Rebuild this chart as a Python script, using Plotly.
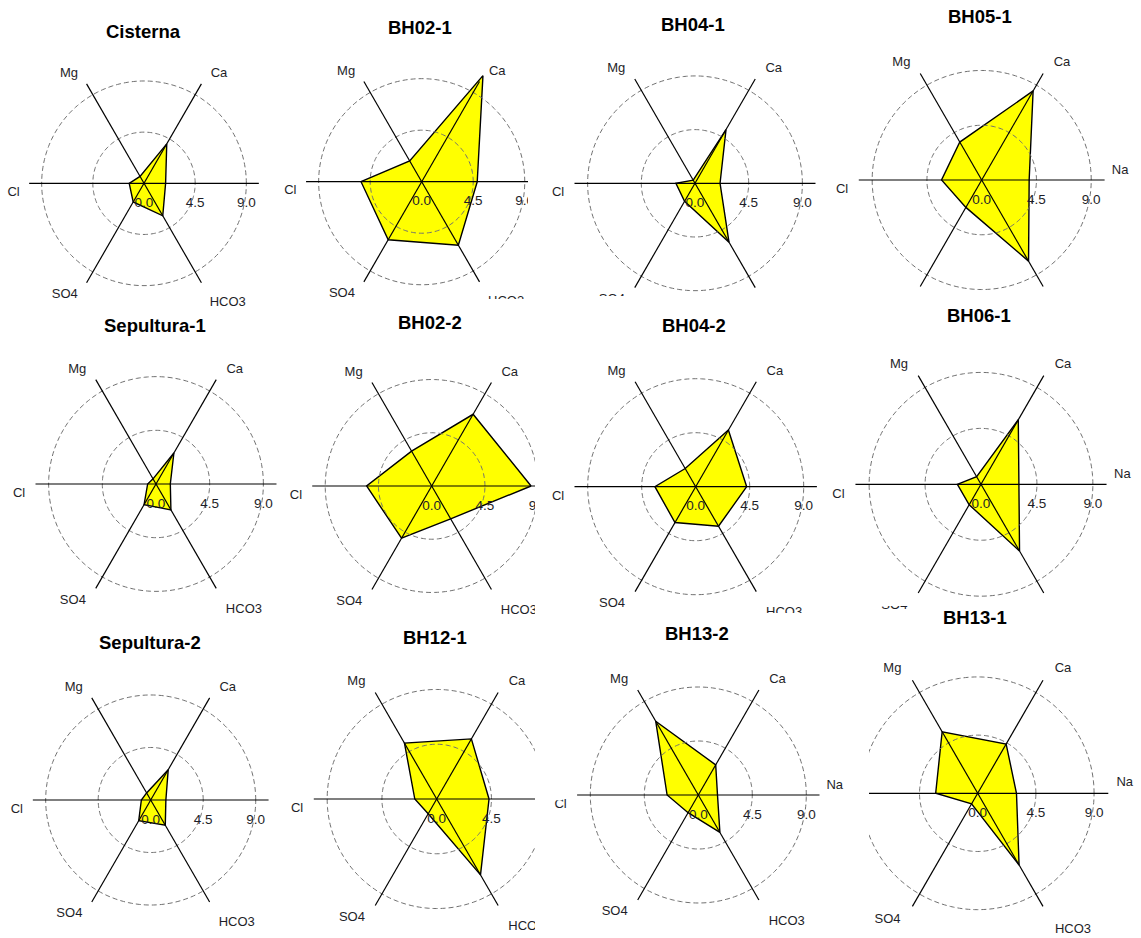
import numpy as np
import plotly.graph_objects as go

# ---- data -----------------------------------------------------------------
ions = ["Na", "Ca", "Mg", "Cl", "SO4", "HCO3"]
ion_angles = [0, 60, 120, 180, 240, 300]
tick_values = [0, 4.5, 9]
tick_labels = ["0.0", "4.5", "9.0"]

sites = ["Cisterna", "BH02-1", "BH04-1", "BH05-1",
         "Sepultura-1", "BH02-2", "BH04-2", "BH06-1",
         "Sepultura-2", "BH12-1", "BH13-2", "BH13-1"]

# concentrations in ion order Na, Ca, Mg, Cl, SO4, HCO3
cisterna = [1.9, 4.0, 0.7, 1.3, 1.9, 3.3]
bh02_1 = [4.85, 10.7, 2.1, 5.3, 5.85, 6.4]
bh04_1 = [2.1, 5.2, 0.3, 1.6, 1.75, 5.7]
bh05_1 = [3.9, 8.45, 3.6, 3.3, 2.6, 7.7]
sepultura_1 = [1.2, 3.0, 0.5, 0.7, 2.0, 2.5]
bh02_2 = [8.4, 7.0, 3.4, 5.5, 5.1, 3.2]
bh04_2 = [4.25, 5.45, 1.75, 3.4, 3.45, 3.8]
bh06_1 = [3.05, 6.0, 0.7, 1.9, 1.9, 6.2]
sepultura_2 = [1.3, 3.0, 0.7, 0.8, 2.05, 2.5]
bh12_1 = [4.3, 5.7, 5.3, 1.8, 1.4, 7.2]
bh13_2 = [1.6, 2.9, 7.1, 2.6, 1.7, 3.6]
bh13_1 = [3.0, 4.4, 5.5, 3.25, 0.95, 6.4]

site_values = [cisterna, bh02_1, bh04_1, bh05_1,
               sepultura_1, bh02_2, bh04_2, bh06_1,
               sepultura_2, bh12_1, bh13_2, bh13_1]

# ---- layout ---------------------------------------------------------------
W, H = 1141, 938
FONT = "Liberation Sans, Arial, sans-serif"
TEXT_COLOR = "#1e1e28"
RMAX = 10.8      # radial range of every panel
SPOKE = 10.1     # length of the axis spokes

# panel centre (px) and pixels per unit
panels = [
    (144.0, 183.3, 11.37), (421.7, 181.7, 11.45), (695.0, 183.3, 11.93), (981.7, 180.0, 12.17),
    (156.0, 484.0, 11.93), (431.7, 486.0, 11.83), (695.7, 486.7, 12.00), (981.0, 484.3, 12.43),
    (150.7, 800.0, 11.67), (436.7, 799.0, 12.17), (698.3, 795.0, 12.00), (977.7, 793.3, 12.93),
]
title_pos = [
    (143, 32), (420, 27), (693, 25), (980, 17),
    (155, 325), (430, 323), (694, 325), (979, 315),
    (150, 642), (435, 637), (697, 633), (975, 617),
]
# ion label placement (angle in degrees, radius in data units)
label_pos = {"Na": (4, 11.4), "Ca": (55.5, 11.65), "Mg": (124.5, 11.65),
             "Cl": (184, 11.5), "SO4": (234.5, 12.0), "HCO3": (305, 12.85)}
hidden_labels = {
    "Cisterna": {"Na"}, "Sepultura-1": {"Na"}, "Sepultura-2": {"Na"},
    "BH02-1": {"Na"}, "BH02-2": {"Na"}, "BH12-1": {"Na"},
    "BH04-1": {"Na", "HCO3"}, "BH04-2": {"Na"},
    "BH05-1": {"HCO3"}, "BH06-1": {"HCO3"}, "BH13-1": {"Cl"},
}
# white strips where neighbouring panels overlap (x0, y0, x1, y1 in px)
crop_boxes = [
    (528, 0, 551, 305), (535, 305, 552, 780), (535, 780, 553, 938),
    (552, 796.5, 562, 800.3), (552, 808, 558, 826),
    (440, 299, 536, 312), (551, 296, 833, 314), (840, 292, 1141, 303),
    (551, 613, 833, 622), (840, 598, 1141, 606), (844, 606, 869, 938),
]

fig = go.Figure()
ring_theta = np.linspace(0, 360, 241)
lab_x, lab_y, lab_t = [], [], []

for i, (name, vals) in enumerate(zip(sites, site_values)):
    key = "polar" if i == 0 else f"polar{i + 1}"
    cx, cy, s = panels[i]
    rp = RMAX * s

    # filled ion polygon
    fig.add_trace(go.Scatterpolar(
        r=vals + [vals[0]], theta=ion_angles + [ion_angles[0]],
        mode="lines", fill="toself", fillcolor="#FFFF00",
        line=dict(color="black", width=1.4), subplot=key,
        hoverinfo="skip", showlegend=False))

    # dashed reference circles
    for tv in tick_values[1:]:
        fig.add_trace(go.Scatterpolar(
            r=[tv] * len(ring_theta), theta=ring_theta, mode="lines",
            line=dict(color="#707070", width=1, dash="5px,3px"),
            subplot=key, hoverinfo="skip", showlegend=False))

    # axis spokes
    sr, st = [], []
    for a in ion_angles:
        sr += [0, SPOKE, None]
        st += [a, a, None]
    fig.add_trace(go.Scatterpolar(
        r=sr, theta=st, mode="lines", line=dict(color="black", width=1.2),
        subplot=key, hoverinfo="skip", showlegend=False))

    # ion labels sit outside the radial range, so place them in page pixels
    for ion in ions:
        if ion in hidden_labels.get(name, set()):
            continue
        ang, rad = label_pos[ion]
        lab_x.append(cx + rad * s * np.cos(np.radians(ang)))
        lab_y.append(cy - rad * s * np.sin(np.radians(ang)))
        lab_t.append(ion)

    fig.update_layout({key: dict(
        domain=dict(x=[(cx - rp) / W, (cx + rp) / W],
                    y=[1 - (cy + rp) / H, 1 - (cy - rp) / H]),
        bgcolor="rgba(0,0,0,0)",
        angularaxis=dict(rotation=0, direction="counterclockwise",
                         showgrid=False, showline=False,
                         showticklabels=False, ticks=""),
        radialaxis=dict(range=[0, RMAX], angle=0, side="clockwise",
                        tickvals=tick_values, ticktext=tick_labels,
                        showgrid=False, showline=False, ticks="outside",
                        ticklen=7, tickcolor="rgba(0,0,0,0)", tickangle=0,
                        tickfont=dict(family=FONT, size=13.5, color=TEXT_COLOR),
                        layer="above traces"),
    )})

    tx, ty = title_pos[i]
    fig.add_annotation(x=tx / W, y=1 - ty / H, xref="paper", yref="paper",
                       text=f"<b>{name}</b>", showarrow=False,
                       xanchor="center", yanchor="middle",
                       font=dict(family=FONT, size=18.5, color="black"))

fig.add_trace(go.Scatter(
    x=lab_x, y=lab_y, text=lab_t, mode="text", textposition="middle center",
    textfont=dict(family=FONT, size=13, color=TEXT_COLOR),
    cliponaxis=False, hoverinfo="skip", showlegend=False,
    xaxis="x", yaxis="y"))

for x0, y0, x1, y1 in crop_boxes:
    fig.add_shape(type="rect", xref="paper", yref="paper", layer="above",
                  x0=x0 / W, x1=x1 / W, y0=1 - y1 / H, y1=1 - y0 / H,
                  fillcolor="white", line=dict(width=0))

fig.update_layout(
    width=W, height=H, margin=dict(l=0, r=0, t=0, b=0),
    paper_bgcolor="white", plot_bgcolor="rgba(0,0,0,0)", showlegend=False,
    xaxis=dict(range=[0, W], domain=[0, 1], visible=False, fixedrange=True),
    yaxis=dict(range=[H, 0], domain=[0, 1], visible=False, fixedrange=True),
)

fig.write_html("out.html")
